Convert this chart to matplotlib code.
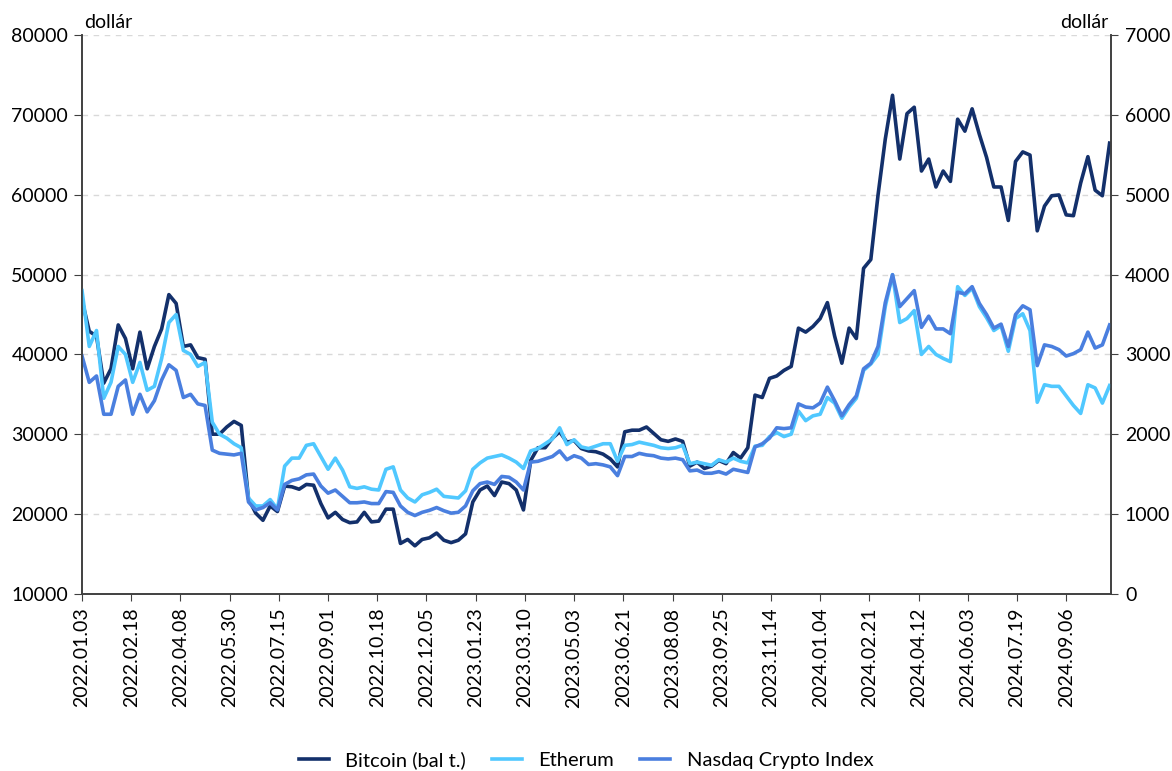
import numpy as np
import matplotlib
matplotlib.use("Agg")
import matplotlib.pyplot as plt

plt.rcParams['font.family'] = ['Lato', 'DejaVu Sans']
plt.rcParams['font.size'] = 14

# values read roughly every 5 trading days
btc = [46800, 42900, 42300, 36400, 38200, 43700, 42000, 38200, 42800, 38200,
       41000, 43200, 47500, 46400, 41000, 41200, 39600, 39400, 30000, 30000,
       30900, 31600, 31100, 21900, 20100, 19200, 21000, 20300, 23500, 23400,
       23100, 23700, 23600, 21300, 19500, 20200, 19300, 18900, 19000, 20200,
       19000, 19100, 20600, 20600, 16300, 16800, 16000, 16800, 17000, 17600,
       16700, 16400, 16700, 17500, 21500, 23000, 23500, 22300, 24000, 23800,
       23000, 20500, 26700, 28300, 28300, 29500, 30300, 29000, 29200, 28200,
       27900, 27800, 27500, 26900, 25900, 30300, 30500, 30500, 30900, 30100,
       29300, 29100, 29400, 29100, 26000, 26500, 25700, 26000, 26700, 26300,
       27700, 27000, 28300, 34900, 34600, 37000, 37300, 38000, 38500, 43300,
       42800, 43500, 44500, 46500, 42300, 38900, 43300, 42000, 50800, 51900,
       60000, 67000, 72500, 64500, 70200, 71000, 63000, 64500, 61000, 63000,
       61700, 69500, 68000, 70800, 67600, 64700, 61000, 61000, 56800, 64200,
       65400, 65000, 55500, 58600, 59900, 60000, 57500, 57400, 61500, 64800,
       60600, 59900, 66500]

eth = [3800, 3100, 3300, 2450, 2650, 3100, 3000, 2650, 2900, 2550,
       2600, 2950, 3400, 3500, 3050, 3000, 2850, 2900, 2150, 2000,
       1950, 1880, 1830, 1200, 1100, 1100, 1180, 1060, 1600, 1700,
       1700, 1860, 1880, 1720, 1560, 1700, 1550, 1340, 1320, 1340,
       1310, 1300, 1560, 1590, 1300, 1200, 1150, 1240, 1270, 1310,
       1220, 1210, 1200, 1290, 1560, 1640, 1700, 1720, 1740, 1700,
       1650, 1570, 1790, 1820, 1880, 1940, 2080, 1870, 1930, 1840,
       1820, 1850, 1880, 1880, 1660, 1860, 1870, 1900, 1880, 1860,
       1830, 1820, 1830, 1860, 1630, 1650, 1630, 1610, 1680, 1650,
       1700, 1660, 1640, 1850, 1860, 1970, 2020, 1970, 2000, 2290,
       2170, 2230, 2250, 2460, 2390, 2200, 2340, 2450, 2800, 2880,
       3000, 3600, 4000, 3400, 3450, 3550, 3000, 3100, 3000, 2950,
       2910, 3850, 3740, 3830, 3600, 3460, 3300, 3360, 3040, 3450,
       3510, 3300, 2400, 2620, 2600, 2600, 2480, 2360, 2260, 2620,
       2580, 2390, 2610]

nci = [2980, 2650, 2730, 2250, 2250, 2600, 2680, 2250, 2500, 2280,
       2420, 2680, 2870, 2800, 2460, 2500, 2380, 2360, 1800, 1760,
       1750, 1740, 1760, 1150, 1050, 1080, 1140, 1050, 1370, 1420,
       1440, 1490, 1500, 1350, 1260, 1300, 1220, 1140, 1140, 1150,
       1130, 1130, 1280, 1270, 1100, 1020, 980, 1020, 1045, 1080,
       1040, 1010, 1020, 1100, 1290, 1380, 1400, 1370, 1470, 1460,
       1400, 1300, 1650, 1660, 1690, 1720, 1790, 1680, 1730, 1700,
       1620, 1630, 1615, 1590, 1480, 1720, 1720, 1760, 1740, 1730,
       1700, 1690, 1700, 1680, 1540, 1550, 1510, 1510, 1530, 1500,
       1560, 1540, 1520, 1840, 1880, 1950, 2080, 2070, 2080, 2380,
       2340, 2330, 2390, 2590, 2420, 2230, 2370, 2480, 2820, 2890,
       3100, 3650, 4000, 3600, 3700, 3800, 3340, 3480, 3320, 3320,
       3260, 3780, 3760, 3850, 3640, 3500, 3330, 3380, 3100, 3500,
       3610, 3560, 2860, 3120, 3100, 3060, 2980, 3010, 3060, 3280,
       3080, 3120, 3370]

tick_labels = ['2022.01.03', '2022.02.18', '2022.04.08', '2022.05.30', '2022.07.15',
               '2022.09.01', '2022.10.18', '2022.12.05', '2023.01.23', '2023.03.10',
               '2023.05.03', '2023.06.21', '2023.08.08', '2023.09.25', '2023.11.14',
               '2024.01.04', '2024.02.21', '2024.04.12', '2024.06.03', '2024.07.19',
               '2024.09.06']

step = 5        # trading days between readings
tick_step = 34  # trading days between date labels
x = np.arange(len(btc)) * step

c_btc = '#13306B'
c_eth = '#50C8FF'
c_nci = '#4A7FDF'
axis_col = '#404040'

fig = plt.figure(figsize=(11.72, 7.71), dpi=100)
ax = fig.add_axes([0.070, 0.230, 0.878, 0.724])
ax2 = ax.twinx()

l1, = ax.plot(x, btc, color=c_btc, lw=2.6, label='Bitcoin (bal t.)')
l2, = ax2.plot(x, eth, color=c_eth, lw=2.6, label='Etherum')
l3, = ax2.plot(x, nci, color=c_nci, lw=2.6, label='Nasdaq Crypto Index')

ax.set_xlim(0, 711)
ax.set_ylim(10000, 80000)
ax2.set_ylim(0, 7000)
ax.set_yticks(np.arange(10000, 80001, 10000))
ax2.set_yticks(np.arange(0, 7001, 1000))
ax.set_xticks(np.arange(len(tick_labels)) * tick_step)
ax.set_xticklabels(tick_labels, rotation=90)

ax.yaxis.grid(True, linestyle=(0, (4, 4)), color='#D9D9D9', lw=1)
ax.set_axisbelow(True)

for a in (ax, ax2):
    a.spines['top'].set_visible(False)
    for s in ('left', 'right', 'bottom'):
        a.spines[s].set_color(axis_col)
        a.spines[s].set_linewidth(1.2)
ax.tick_params(axis='y', direction='out', length=6, pad=4, color=axis_col)
ax2.tick_params(axis='y', direction='out', length=5, pad=5, color=axis_col)
ax.tick_params(axis='x', direction='out', length=5, pad=5, color=axis_col)

fig.text(84 / 1172, 1 - 22 / 771, 'dollár', ha='left', va='center', fontsize=14)
fig.text(1108 / 1172, 1 - 22 / 771, 'dollár', ha='right', va='center', fontsize=14)

fig.legend([l1, l2, l3], [l1.get_label(), l2.get_label(), l3.get_label()],
           loc='center', bbox_to_anchor=(0.5, 1 - 760 / 771), ncol=3, frameon=False,
           handlelength=1.5, columnspacing=1.3, handletextpad=0.8, fontsize=14.5)

fig.savefig('out.png', dpi=100)
